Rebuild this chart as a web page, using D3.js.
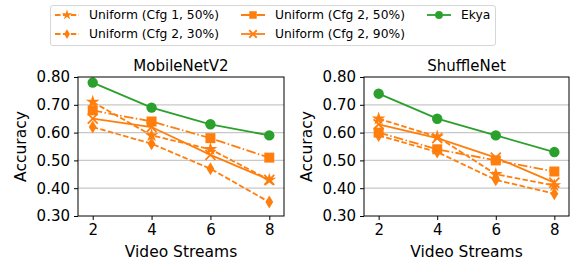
<!DOCTYPE html>
<html>
<head>
<meta charset="utf-8">
<script src="https://cdn.jsdelivr.net/npm/d3@7"></script>
<style>
  body { margin: 0; background: #fff; }
  svg { display: block; font-family: "DejaVu Sans", sans-serif; }
</style>
</head>
<body>
<svg id="chart" width="570" height="262"></svg>
<script>
// data
const streams = [2, 4, 6, 8];
const seriesNames = ["Uniform (Cfg 1, 50%)", "Uniform (Cfg 2, 30%)", "Uniform (Cfg 2, 50%)", "Uniform (Cfg 2, 90%)", "Ekya"];
const panelTitles = ["MobileNetV2", "ShuffleNet"];
const yTicks = [0.3, 0.4, 0.5, 0.6, 0.7, 0.8];

const mobileCfg1_50 = [0.71, 0.59, 0.54, 0.43];
const mobileCfg2_30 = [0.62, 0.56, 0.47, 0.35];
const mobileCfg2_50 = [0.68, 0.64, 0.58, 0.51];
const mobileCfg2_90 = [0.65, 0.62, 0.52, 0.43];
const mobileEkya    = [0.78, 0.69, 0.63, 0.59];

const shuffleCfg1_50 = [0.65, 0.585, 0.45, 0.41];
const shuffleCfg2_30 = [0.59, 0.53, 0.43, 0.38];
const shuffleCfg2_50 = [0.60, 0.54, 0.50, 0.46];
const shuffleCfg2_90 = [0.63, 0.58, 0.51, 0.42];
const shuffleEkya    = [0.74, 0.65, 0.59, 0.53];

const panelData = [
  [mobileCfg1_50, mobileCfg2_30, mobileCfg2_50, mobileCfg2_90, mobileEkya],
  [shuffleCfg1_50, shuffleCfg2_30, shuffleCfg2_50, shuffleCfg2_90, shuffleEkya]
];

// styles
const orange = "#ff7f0e", green = "#2ca02c";
const styles = [
  { color: orange, dash: "5.5,2.4", marker: "star" },
  { color: orange, dash: "5.5,2.4", marker: "thin_diamond" },
  { color: orange, dash: "9.6,2.4,1.5,2.4", marker: "square" },
  { color: orange, dash: null, marker: "x" },
  { color: green, dash: null, marker: "circle" }
];

const svg = d3.select("#chart");
const plotTop = 77, plotBottom = 216;
const panels = [{ left: 78, right: 284 }, { left: 364, right: 569 }];

function drawMarker(g, type, color, x, y, k = 1) {
  if (type === "circle") {
    g.append("circle").attr("cx", x).attr("cy", y).attr("r", 5.2 * k).attr("fill", color);
  } else if (type === "square") {
    const h = 5 * k;
    g.append("rect").attr("x", x - h).attr("y", y - h).attr("width", 2 * h).attr("height", 2 * h).attr("fill", color);
  } else if (type === "thin_diamond") {
    g.append("path").attr("d", `M${x},${y - 6.5 * k}L${x + 3.9 * k},${y}L${x},${y + 6.5 * k}L${x - 3.9 * k},${y}Z`).attr("fill", color);
  } else if (type === "star") {
    g.append("path").attr("d", d3.symbol(d3.symbolStar, 58 * k * k)()).attr("transform", `translate(${x},${y})`).attr("fill", color);
  } else if (type === "x") {
    const h = 5 * k;
    g.append("path").attr("d", `M${x - h},${y - h}L${x + h},${y + h}M${x - h},${y + h}L${x + h},${y - h}`)
      .attr("stroke", color).attr("stroke-width", 1.8).attr("fill", "none");
  }
}

panels.forEach((p, pi) => {
  const x = d3.scaleLinear().domain([1.5, 8.5]).range([p.left, p.right]);
  const y = d3.scaleLinear().domain([0.3, 0.8]).range([plotBottom, plotTop]);
  const g = svg.append("g");

  // grid
  g.append("g").selectAll("line").data(yTicks.slice(1, -1)).join("line")
    .attr("x1", p.left).attr("x2", p.right)
    .attr("y1", d => y(d)).attr("y2", d => y(d))
    .attr("stroke", "#c8c8c8").attr("stroke-width", 1.2);

  // series
  panelData[pi].forEach((vals, si) => {
    const st = styles[si];
    const pts = streams.map((s, i) => [x(s), y(vals[i])]);
    g.append("path").attr("d", d3.line()(pts))
      .attr("fill", "none").attr("stroke", st.color).attr("stroke-width", 1.8)
      .attr("stroke-dasharray", st.dash);
    pts.forEach(pt => drawMarker(g, st.marker, st.color, pt[0], pt[1]));
  });

  // axes
  g.append("g").attr("transform", `translate(0,${plotBottom})`)
    .call(d3.axisBottom(x).tickValues(streams).tickFormat(d3.format("d")).tickSize(4).tickPadding(4))
    .call(a => a.select(".domain").remove())
    .selectAll("text").attr("font-size", 15).attr("fill", "#000").attr("font-family", "DejaVu Sans");
  g.append("g").attr("transform", `translate(${p.left},0)`)
    .call(d3.axisLeft(y).tickValues(yTicks).tickFormat(d3.format(".2f")).tickSize(4).tickPadding(4))
    .call(a => a.select(".domain").remove())
    .selectAll("text").attr("font-size", 15).attr("fill", "#000").attr("font-family", "DejaVu Sans");

  g.append("rect").attr("x", p.left).attr("y", plotTop)
    .attr("width", p.right - p.left).attr("height", plotBottom - plotTop)
    .attr("fill", "none").attr("stroke", "#000").attr("stroke-width", 1);

  g.append("text").text(panelTitles[pi])
    .attr("x", (p.left + p.right) / 2).attr("y", 71)
    .attr("text-anchor", "middle").attr("font-size", 15);
  g.append("text").text("Video Streams")
    .attr("x", (p.left + p.right) / 2).attr("y", 257)
    .attr("text-anchor", "middle").attr("font-size", 15.5);
  g.append("text").text("Accuracy")
    .attr("transform", `translate(${p.left - 52},${(plotTop + plotBottom) / 2}) rotate(-90)`)
    .attr("text-anchor", "middle").attr("font-size", 15.5);
});

// legend
const legend = svg.append("g");
legend.append("rect").attr("x", 50.5).attr("y", 5.5).attr("width", 445).attr("height", 40)
  .attr("rx", 2.5).attr("fill", "#fff").attr("stroke", "#d6d6d6");
const legendPos = [[55, 15], [55, 34], [241, 15], [241, 34], [427, 15]];
seriesNames.forEach((name, i) => {
  const st = styles[i];
  const [lx, ly] = legendPos[i];
  legend.append("line").attr("x1", lx).attr("x2", lx + 24).attr("y1", ly).attr("y2", ly)
    .attr("stroke", st.color).attr("stroke-width", 1.8).attr("stroke-dasharray", st.dash);
  drawMarker(legend, st.marker, st.color, lx + 12, ly, 0.75);
  legend.append("text").text(name).attr("x", lx + 34).attr("y", ly)
    .attr("dy", "0.35em").attr("font-size", 12.3);
});
</script>
</body>
</html>
